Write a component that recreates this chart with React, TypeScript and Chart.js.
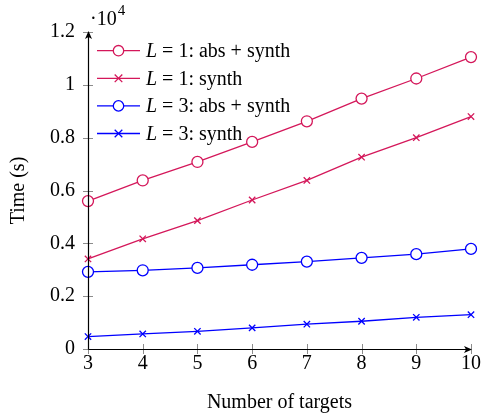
import React, { useEffect, useRef } from "react";
import { Chart, registerables } from "chart.js";

Chart.register(...registerables);

const targets = [3, 4, 5, 6, 7, 8, 9, 10];
const l1AbsSynth = [5600, 6380, 7080, 7840, 8620, 9480, 10240, 11050];
const l1Synth = [3410, 4170, 4860, 5640, 6380, 7260, 8000, 8800];
const l3AbsSynth = [2920, 2980, 3070, 3190, 3310, 3450, 3590, 3790];
const l3Synth = [470, 570, 670, 800, 940, 1050, 1200, 1300];
const seriesLabels = [
  { l: "1", rest: ": abs + synth" },
  { l: "1", rest: ": synth" },
  { l: "3", rest: ": abs + synth" },
  { l: "3", rest: ": synth" },
];
const yTicks = [0, 2000, 4000, 6000, 8000, 10000, 12000];
const xTicks = targets;

const RED = "#d4175a";
const BLUE = "#0000ff";
const FONT = "'Liberation Serif', 'DejaVu Serif', serif";
const FS = 20;

const axesPlugin = {
  id: "pgfAxes",
  afterDatasetsDraw(chart: any) {
    const ctx = chart.ctx;
    const xs = chart.scales.x;
    const ys = chart.scales.y;
    const ca = chart.chartArea;
    ctx.save();
    // ticks
    ctx.strokeStyle = "#8c8c8c";
    ctx.lineWidth = 1;
    yTicks.forEach((v) => {
      const y = Math.round(ys.getPixelForValue(v)) + 0.5;
      ctx.beginPath();
      ctx.moveTo(ca.left - 5, y);
      ctx.lineTo(ca.left + 5, y);
      ctx.stroke();
    });
    xTicks.forEach((v) => {
      const x = Math.round(xs.getPixelForValue(v)) + 0.5;
      ctx.beginPath();
      ctx.moveTo(x, ca.bottom - 5);
      ctx.lineTo(x, ca.bottom + 5);
      ctx.stroke();
    });
    // axis lines
    ctx.strokeStyle = "#000";
    ctx.fillStyle = "#000";
    ctx.lineWidth = 1.2;
    const ax = Math.round(ca.left) + 0.5;
    const ay = Math.round(ca.bottom) + 0.5;
    ctx.beginPath();
    ctx.moveTo(ax, ay);
    ctx.lineTo(ax, ca.top + 2);
    ctx.stroke();
    ctx.beginPath();
    ctx.moveTo(ax, ay);
    ctx.lineTo(ca.right - 2, ay);
    ctx.stroke();
    // arrow heads
    ctx.beginPath();
    ctx.moveTo(ax, ca.top - 1);
    ctx.lineTo(ax - 3.5, ca.top + 7);
    ctx.lineTo(ax, ca.top + 5);
    ctx.lineTo(ax + 3.5, ca.top + 7);
    ctx.closePath();
    ctx.fill();
    ctx.beginPath();
    ctx.moveTo(ca.right + 1, ay);
    ctx.lineTo(ca.right - 7, ay - 3.5);
    ctx.lineTo(ca.right - 5, ay);
    ctx.lineTo(ca.right - 7, ay + 3.5);
    ctx.closePath();
    ctx.fill();
    // exponent label
    ctx.textBaseline = "alphabetic";
    ctx.textAlign = "left";
    ctx.font = `${FS}px ${FONT}`;
    ctx.fillText("·10", 90, 25);
    const w = ctx.measureText("·10").width;
    ctx.font = `15px ${FONT}`;
    ctx.fillText("4", 90 + w + 1, 15);
    // legend
    const dsets = chart.data.datasets;
    dsets.forEach((d: any, i: number) => {
      const y = 50.7 + i * 27.6;
      ctx.strokeStyle = d.borderColor;
      ctx.lineWidth = 1.3;
      ctx.beginPath();
      ctx.moveTo(97, y);
      ctx.lineTo(140, y);
      ctx.stroke();
      const mx = 118.5;
      if (d.pointStyle === "circle") {
        ctx.fillStyle = "#fff";
        ctx.beginPath();
        ctx.arc(mx, y, 5.2, 0, Math.PI * 2);
        ctx.fill();
        ctx.stroke();
      } else {
        const s = 3.8;
        ctx.beginPath();
        ctx.moveTo(mx - s, y - s);
        ctx.lineTo(mx + s, y + s);
        ctx.moveTo(mx - s, y + s);
        ctx.lineTo(mx + s, y - s);
        ctx.stroke();
      }
      const lab = seriesLabels[i];
      ctx.fillStyle = "#000";
      ctx.textBaseline = "middle";
      ctx.font = `italic ${FS}px ${FONT}`;
      let x = 146;
      ctx.fillText("L", x, y + 1);
      x += ctx.measureText("L").width + 5;
      ctx.font = `${FS}px ${FONT}`;
      ctx.fillText("=", x, y + 1);
      x += ctx.measureText("=").width + 5;
      ctx.fillText(lab.l + lab.rest, x, y + 1);
    });
    ctx.restore();
  },
};

function ds(label: string, data: number[], color: string, style: string) {
  return {
    label,
    data: data.map((v, i) => ({ x: targets[i], y: v })),
    borderColor: color,
    backgroundColor: "#fff",
    pointBackgroundColor: "#fff",
    pointBorderColor: color,
    borderWidth: 1.3,
    pointBorderWidth: 1.3,
    pointStyle: style,
    pointRadius: style === "circle" ? 5.5 : 4.5,
    tension: 0,
    clip: false as any,
  };
}

export default function App() {
  const ref = useRef<HTMLCanvasElement>(null);
  useEffect(() => {
    if (!ref.current) return;
    const chart = new Chart(ref.current, {
      type: "line",
      data: {
        datasets: [
          ds("L = 1: abs + synth", l1AbsSynth, RED, "circle"),
          ds("L = 1: synth", l1Synth, RED, "crossRot"),
          ds("L = 3: abs + synth", l3AbsSynth, BLUE, "circle"),
          ds("L = 3: synth", l3Synth, BLUE, "crossRot"),
        ],
      },
      options: {
        responsive: false,
        animation: false,
        layout: { padding: { top: 32, right: 11, left: 0, bottom: 0 } },
        plugins: { legend: { display: false }, tooltip: { enabled: false } },
        scales: {
          x: {
            type: "linear",
            min: 3,
            max: 10,
            afterFit: (s: any) => {
              s.height = 68;
            },
            afterBuildTicks: (s: any) => {
              s.ticks = xTicks.map((v) => ({ value: v }));
            },
            grid: { display: false, drawTicks: false },
            border: { display: false },
            ticks: {
              padding: 3,
              color: "#000",
              font: { family: FONT, size: FS },
              maxRotation: 0,
              callback: (v: any) => String(v),
            },
            title: {
              display: true,
              text: "Number of targets",
              color: "#000",
              font: { family: FONT, size: FS },
              padding: { top: 0, bottom: 2 },
            },
          },
          y: {
            type: "linear",
            min: 0,
            max: 12000,
            afterFit: (s: any) => {
              s.width = 88;
            },
            afterBuildTicks: (s: any) => {
              s.ticks = yTicks.map((v) => ({ value: v }));
            },
            grid: { display: false, drawTicks: false },
            border: { display: false },
            ticks: {
              padding: 13,
              color: "#000",
              font: { family: FONT, size: FS },
              callback: (v: any) => String(parseFloat((v / 10000).toFixed(1))),
            },
            title: {
              display: true,
              text: "Time (s)",
              color: "#000",
              font: { family: FONT, size: FS },
              padding: { top: 7, bottom: 0 },
            },
          },
        },
      },
      plugins: [axesPlugin],
    });
    return () => chart.destroy();
  }, []);
  return (
    <div style={{ position: "absolute", left: 0, top: 0, width: 484, height: 417 }}>
      <canvas ref={ref} width={484} height={417} style={{ width: 484, height: 417, display: "block" }} />
    </div>
  );
}
